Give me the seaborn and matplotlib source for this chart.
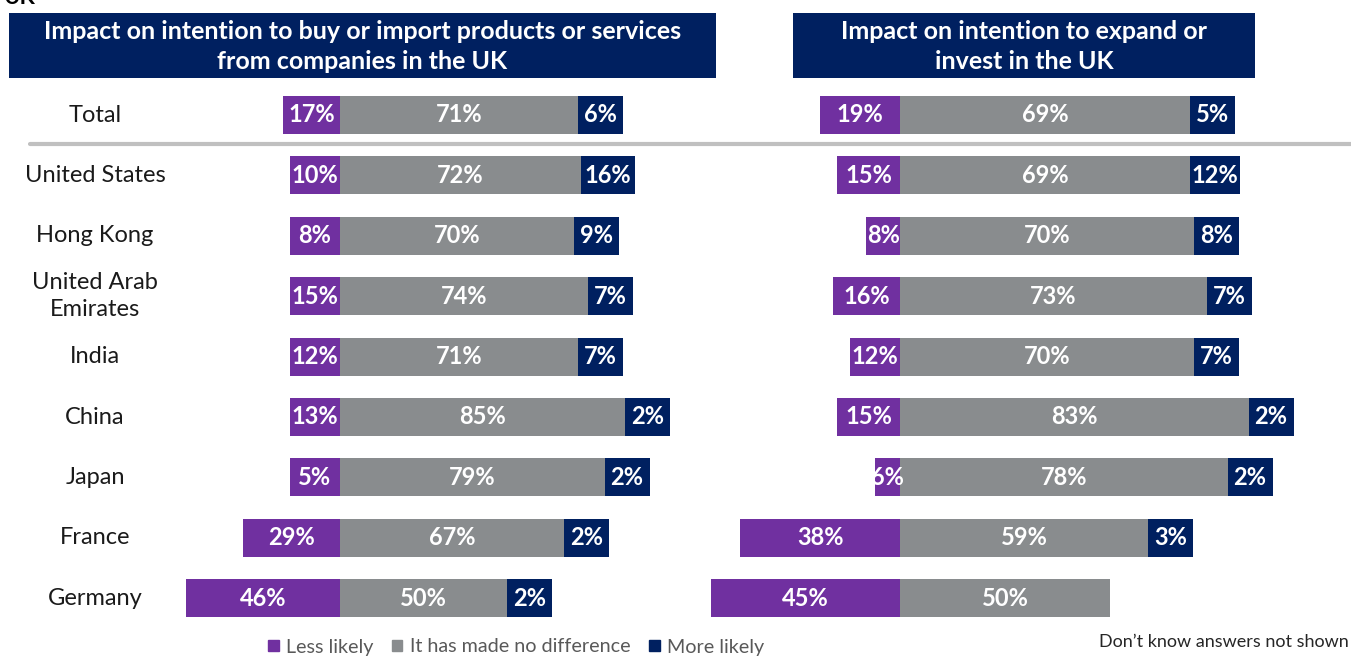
import numpy as np
import pandas as pd
import matplotlib
matplotlib.use("Agg")
import matplotlib.pyplot as plt
import seaborn as sns
from matplotlib.patches import Rectangle, Patch
from matplotlib.lines import Line2D

countries = ["Total", "United States", "Hong Kong", "United Arab\nEmirates", "India",
             "China", "Japan", "France", "Germany"]
buy_less = [17, 10, 8, 15, 12, 13, 5, 29, 46]
buy_same = [71, 72, 70, 74, 71, 85, 79, 67, 50]
buy_more = [6, 16, 9, 7, 7, 2, 2, 2, 2]
inv_less = [19, 15, 8, 16, 12, 15, 6, 38, 45]
inv_same = [69, 69, 70, 73, 70, 83, 78, 59, 50]
inv_more = [5, 12, 8, 7, 7, 2, 2, 3, 0]   # Germany: not shown

titles = ["Impact on intention to buy or import products or services\nfrom companies in the UK",
          "Impact on intention to expand or\ninvest in the UK"]
legend_labels = ["Less likely", "It has made no difference", "More likely"]
note = "Don\u2019t know answers not shown"

PURPLE = "#7030A0"
GREY = "#898C8E"
NAVY = "#002060"

W, H = 1351, 657
sns.set_style("white")
plt.rcParams["font.family"] = ["Lato", "DejaVu Sans"]

fig = plt.figure(figsize=(W / 100, H / 100), dpi=100)


def fx(p):
    return p / W


def fy(p):
    return 1 - p / H


# rows sit at 115 + 60.4*i px from the top
row0, step = 115, 60.4
top, bot = row0 - step / 2, row0 + 8.5 * step


def draw_panel(x0, x1, zero, scale, less, same, more, less_min, more_min):
    ax = fig.add_axes([fx(x0), fy(bot), fx(x1) - fx(x0), (bot - top) / H])
    ax.patch.set_alpha(0)
    df = pd.DataFrame({"country": countries, "less": less, "same": same, "more": more})
    # small segments are widened so their label fits (as in the original)
    df["less_w"] = [max(v, less_min) if v else 0 for v in less]
    df["more_w"] = [max(v, more_min) if v else 0 for v in more]
    df["less_neg"] = -df["less_w"]
    df["more_end"] = df["same"] + df["more_w"]

    kw = dict(y="country", data=df, orient="h", width=0.63, errorbar=None,
              linewidth=0, saturation=1, ax=ax)
    sns.barplot(x="more_end", color=NAVY, **kw)
    sns.barplot(x="same", color=GREY, **kw)
    sns.barplot(x="less_neg", color=PURPLE, **kw)

    lab = dict(ha="center", va="center", color="white", fontsize=17, fontweight="bold")
    for i, r in df.iterrows():
        if r.less:
            ax.text(-r.less_w / 2, i, f"{r.less}%", **lab)
        ax.text(r.same / 2, i, f"{r.same}%", **lab)
        if r.more:
            ax.text(r.same + r.more_w / 2, i, f"{r.more}%", **lab)

    ax.set_xlim(-(zero - x0) / scale, (x1 - zero) / scale)
    ax.set_ylim(8.5, -0.5)
    ax.set_axis_off()
    return ax


draw_panel(170, 700, 340, 3.35, buy_less, buy_same, buy_more, 15, 13.4)
draw_panel(700, 1340, 900, 4.2, inv_less, inv_same, inv_more, 0, 10.7)

# header boxes
for (x0, x1), t in zip([(9, 716), (793, 1255)], titles):
    fig.add_artist(Rectangle((fx(x0), fy(78)), fx(x1) - fx(x0), 65 / H,
                             transform=fig.transFigure, facecolor=NAVY, edgecolor="none"))
    fig.text(fx((x0 + x1) / 2), fy(46.5), t, ha="center", va="center", color="white",
             fontsize=18, fontweight="bold", linespacing=1.4)

# country names
for i, c in enumerate(countries):
    fig.text(fx(95), fy(row0 + step * i), c, ha="center", va="center",
             fontsize=17, color="#1a1a1a", linespacing=1.33)

# separator under Total
fig.add_artist(Line2D([fx(30), fx(1351)], [fy(144), fy(144)], color="#C0C0C0", lw=3))

# legend and note
handles = [Patch(color=c) for c in (PURPLE, GREY, NAVY)]
fig.legend(handles, legend_labels, loc="center left", bbox_to_anchor=(fx(250), fy(647)),
           ncol=3, frameon=False, fontsize=14.2, handlelength=0.55, handleheight=0.55,
           handletextpad=0.4, columnspacing=0.9, labelcolor="#595959")
fig.text(fx(1349), fy(642), note, ha="right", va="center", fontsize=13, color="#262626")

# clipped title fragment at the very top
fig.text(fx(3), fy(4), "UK", fontsize=16, fontweight="bold", va="baseline", color="black")

fig.savefig("out.png", dpi=100)
